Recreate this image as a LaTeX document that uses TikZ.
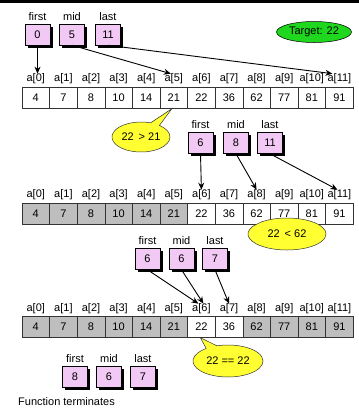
\documentclass[tikz,border=0pt]{standalone}
\usepackage{fontspec}
\setmainfont{Liberation Sans}
\usetikzlibrary{shapes.callouts,shapes.geometric,shadows,arrows.meta}
\definecolor{ptrpink}{RGB}{242,200,244}
\definecolor{cellgray}{RGB}{190,190,190}
\definecolor{noteyellow}{RGB}{255,255,50}
\definecolor{targetgreen}{RGB}{30,215,30}
\begin{document}
\begin{tikzpicture}[x=1pt,y=-1pt,font=\fontsize{11}{13}\selectfont,
  cell/.style={draw=black!80,line width=0.5pt,minimum width=27.6pt,minimum height=21pt,inner sep=0pt},
  grey/.style={cell,fill=cellgray},
  idx/.style={inner sep=0pt},
  ptrbox/.style={draw=black,line width=0.5pt,fill=ptrpink,minimum width=25pt,minimum height=21pt,inner sep=0pt,
    drop shadow={shadow xshift=2.5pt,shadow yshift=-2.5pt,fill=black,opacity=1}},
  ptrname/.style={inner sep=0pt,above=3pt},
  ptr/.style={-{Stealth[length=7pt,width=6pt]},line width=0.9pt},
  note/.style={ellipse callout,draw=black!80,fill=noteyellow,line width=0.5pt,inner sep=0pt,
    callout pointer arc=20}]

\path[use as bounding box] (0,0) rectangle (359,408);
\fill[black] (0,0) rectangle (359,2.5);

% target value
\node[ellipse,draw=black,line width=0.5pt,fill=targetgreen,minimum width=75pt,minimum height=21pt,inner sep=0pt]
  (target) at (314,32) {Target: 22};

% array, first pass (all candidates)
\foreach \v [count=\i from 0] in {4,7,8,10,14,21,22,36,62,77,81,91} {
  \node[cell] (r1c\i) at (35.8+27.6*\i,98) {\v};
  \node[idx] (r1l\i) at (35.8+27.6*\i,79) {a[\i]};
}
% array, second pass (lower half discarded)
\foreach \v/\s [count=\i from 0] in {4/grey,7/grey,8/grey,10/grey,14/grey,21/grey,22/cell,36/cell,62/cell,77/cell,81/cell,91/cell} {
  \node[\s] (r2c\i) at (35.8+27.6*\i,213.5) {\v};
  \node[idx] (r2l\i) at (35.8+27.6*\i,195) {a[\i]};
}
% array, third pass (only a[6], a[7] left)
\foreach \v/\s [count=\i from 0] in {4/grey,7/grey,8/grey,10/grey,14/grey,21/grey,22/cell,36/cell,62/grey,77/grey,81/grey,91/grey} {
  \node[\s] (r3c\i) at (35.8+27.6*\i,327) {\v};
  \node[idx] (r3l\i) at (35.8+27.6*\i,309) {a[\i]};
}

% pointers, pass 1
\node[ptrbox] (fA) at (37.5,34.5) {0};
\node[ptrbox] (mA) at (72,34.5) {5};
\node[ptrbox] (lA) at (108,34.5) {11};
\node[ptrname] (fAn) at (fA.north) {first};
\node[ptrname] (mAn) at (mA.north) {mid};
\node[ptrname] (lAn) at (lA.north) {last};
\draw[ptr] (fA.south) -- (fA.south |- r1l0.north);
\draw[ptr] (mA.south) -- ([xshift=-3pt]r1l5.north);
\draw[ptr] (lA.south) -- ([xshift=-7pt]r1l11.north);

% pointers, pass 2
\node[ptrbox] (fB) at (200.5,143) {6};
\node[ptrbox] (mB) at (236,143) {8};
\node[ptrbox] (lB) at (270,143) {11};
\node[ptrname] (fBn) at (fB.north) {first};
\node[ptrname] (mBn) at (mB.north) {mid};
\node[ptrname] (lBn) at (lB.north) {last};
\draw[ptr] (fB.south) -- (r2l6.north);
\draw[ptr] (mB.south) -- (r2l8.north);
\draw[ptr] (lB.south) -- ([xshift=-2pt]r2l11.north);

% pointers, pass 3
\node[ptrbox] (fC) at (147.5,259) {6};
\node[ptrbox] (mC) at (181.5,259) {6};
\node[ptrbox] (lC) at (215,259) {7};
\node[ptrname] (fCn) at (fC.north) {first};
\node[ptrname] (mCn) at (mC.north) {mid};
\node[ptrname] (lCn) at (lC.north) {last};
\draw[ptr] (fC.south) -- ([xshift=-3pt]r3l6.north);
\draw[ptr] (mC.south) -- ([xshift=2pt]r3l6.north);
\draw[ptr] (lC.south) -- (r3l7.north);

% comparisons
\node[note,minimum width=58pt,minimum height=30pt,callout absolute pointer={([xshift=-2pt]r1c5.south)}] (n1) at (141,137) {22 \,> 21};
\node[note,minimum width=78pt,minimum height=32pt,callout absolute pointer={(r2c8.south)}] (n2) at (287,234) {22 \,< 62};
\node[note,minimum width=70pt,minimum height=32pt,callout absolute pointer={([xshift=-1pt]r3c6.south)}] (n3) at (228,361) {22 == 22};

% final state
\node[ptrbox] (fD) at (75,377) {8};
\node[ptrbox] (mD) at (109,377) {6};
\node[ptrbox] (lD) at (143,377) {7};
\node[ptrname] (fDn) at (fD.north) {first};
\node[ptrname] (mDn) at (mD.north) {mid};
\node[ptrname] (lDn) at (lD.north) {last};
\node[anchor=west,inner sep=0pt] (done) at (18,402) {Function terminates};
\end{tikzpicture}
\end{document}
